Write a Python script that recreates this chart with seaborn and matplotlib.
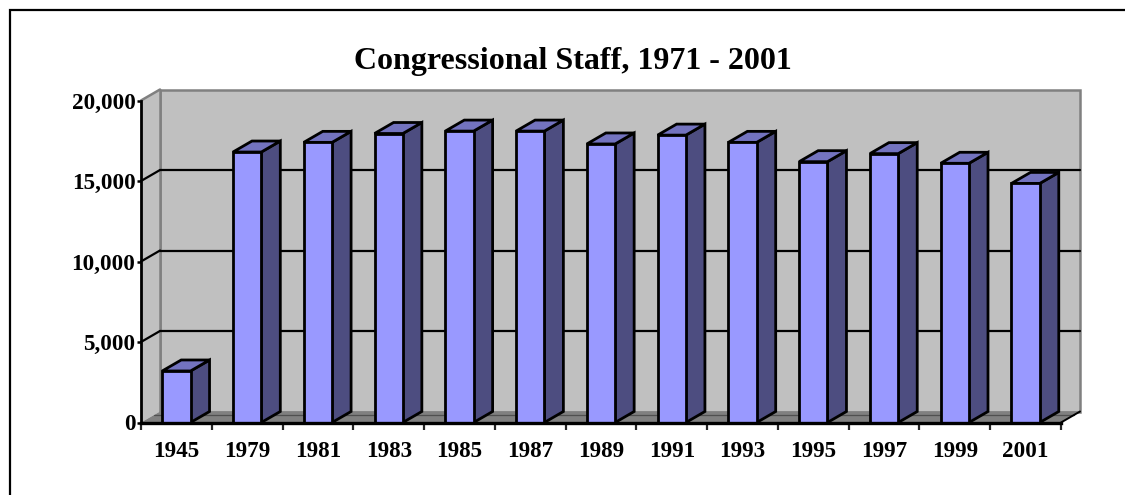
import matplotlib
matplotlib.use('Agg')
import matplotlib.pyplot as plt
from matplotlib.patches import Polygon
import seaborn as sns

years = ['1945', '1979', '1981', '1983', '1985', '1987', '1989', '1991', '1993', '1995', '1997', '1999', '2001']
staff = [3200, 16800, 17400, 17950, 18100, 18100, 17300, 17850, 17400, 16200, 16700, 16100, 14850]
y_ticks = [0, 5000, 10000, 15000, 20000]

FRONT = '#9999ff'
SIDE = '#4d4d80'
TOP = '#7373bf'
WALL = '#c0c0c0'
FLOOR = '#808080'
EDGE = '#808080'

sns.set_theme(style='white')
plt.rcParams['font.family'] = ['Liberation Serif', 'DejaVu Serif']
plt.rcParams['font.weight'] = 'bold'

W, H = 1125, 495
fig = plt.figure(figsize=(W / 100, H / 100), dpi=100)
# front plane of the fake 3d box, in pixels: x 141-1061, y 100-422
ax = fig.add_axes([141 / W, 1 - 422.5 / H, 920 / W, 322 / H])

bar_width = 0.40
sns.barplot(x=years, y=staff, color=FRONT, saturation=1, width=bar_width,
            edgecolor='black', linewidth=2, ax=ax, zorder=5)
ax.set_xlim(-0.5, 12.5)
ax.set_ylim(0, 20000)

# depth of the box in data units
dx = 19 / (920 / 13)
dy = 11 / (322 / 20000)
x0, x1 = -0.5, 12.5
top = 20000

# walls and floor
ax.add_patch(Polygon([(x0 + dx, dy), (x1 + dx, dy), (x1 + dx, top + dy), (x0 + dx, top + dy)],
                     fc=WALL, ec=EDGE, lw=1.8, clip_on=False, zorder=1))
ax.add_patch(Polygon([(x0, 0), (x0 + dx, dy), (x0 + dx, top + dy), (x0, top)],
                     fc=WALL, ec='none', clip_on=False, zorder=1))
ax.add_patch(Polygon([(x0, 0), (x1, 0), (x1 + dx, dy), (x0 + dx, dy)],
                     fc=FLOOR, ec='none', clip_on=False, zorder=1.5))
# thin dark seam near the back of the floor
ax.plot([x0 + dx * 0.7, x1 + dx * 0.7], [dy * 0.7, dy * 0.7], color='#505050', lw=0.9, clip_on=False, zorder=1.55)
ax.plot([x0, x0 + dx], [top, top + dy], color=EDGE, lw=1.8, clip_on=False, zorder=1.6)
ax.plot([x0 + dx, x0 + dx], [0 + dy, top + dy], color=EDGE, lw=1.8, clip_on=False, zorder=1.6)
ax.plot([x1, x1 + dx], [0, dy], color='black', lw=1.4, clip_on=False, zorder=1.7)

# grid lines run along the back wall and down the side wall
for v in y_ticks[1:-1]:
    ax.plot([x0 + dx, x1 + dx], [v + dy, v + dy], color='black', lw=1.6, clip_on=False, zorder=2)
    ax.plot([x0, x0 + dx], [v, v + dy], color='black', lw=1.6, clip_on=False, zorder=2)

# side and top faces of each bar
half = bar_width / 2
for i, v in enumerate(staff):
    l, r = i - half, i + half
    ax.add_patch(Polygon([(r, 0), (r + dx, dy), (r + dx, v + dy), (r, v)],
                         fc=SIDE, ec='black', lw=2, joinstyle='miter', clip_on=False, zorder=4))
    ax.add_patch(Polygon([(l, v), (r, v), (r + dx, v + dy), (l + dx, v + dy)],
                         fc=TOP, ec='black', lw=2, joinstyle='miter', clip_on=False, zorder=4))

ax.set_yticks(y_ticks)
ax.set_yticks(range(1000, 20000, 1000), minor=True)
ax.set_yticklabels([f'{v:,}' for v in y_ticks])
ax.set_xticks([i - 0.5 for i in range(14)], minor=True)
ax.set_xticks(range(13))
ax.set_xticklabels(years)
ax.tick_params(axis='y', which='major', direction='inout', length=6, width=1.8, left=True, pad=1,
               labelsize=16.7, colors='black')
ax.tick_params(axis='y', which='minor', direction='in', length=3.5, width=1.8, left=True)
ax.tick_params(axis='x', which='major', length=0, pad=13, labelsize=16.7, colors='black')
ax.tick_params(axis='x', which='minor', length=5, width=1.6, bottom=True)

for s in ['top', 'right']:
    ax.spines[s].set_visible(False)
ax.spines['left'].set_color('black')
ax.spines['left'].set_linewidth(2)
ax.spines['left'].set_zorder(6)
ax.spines['bottom'].set_color('black')
ax.spines['bottom'].set_linewidth(2.4)
ax.spines['bottom'].set_zorder(6)
ax.set_xlabel('')
ax.set_ylabel('')

fig.text(573 / W, 1 - 62 / H, 'Congressional Staff, 1971 - 2001', ha='center', va='center',
         fontsize=23, fontweight='bold', color='black')

# outer chart frame: only left and top are inside the picture
fig.add_artist(plt.Line2D([10 / W, 10 / W, 1], [0, 1 - 9.5 / H, 1 - 9.5 / H], transform=fig.transFigure,
                          color='black', lw=1.6, solid_joinstyle='miter'))

fig.savefig('out.png', dpi=100, facecolor='white')
